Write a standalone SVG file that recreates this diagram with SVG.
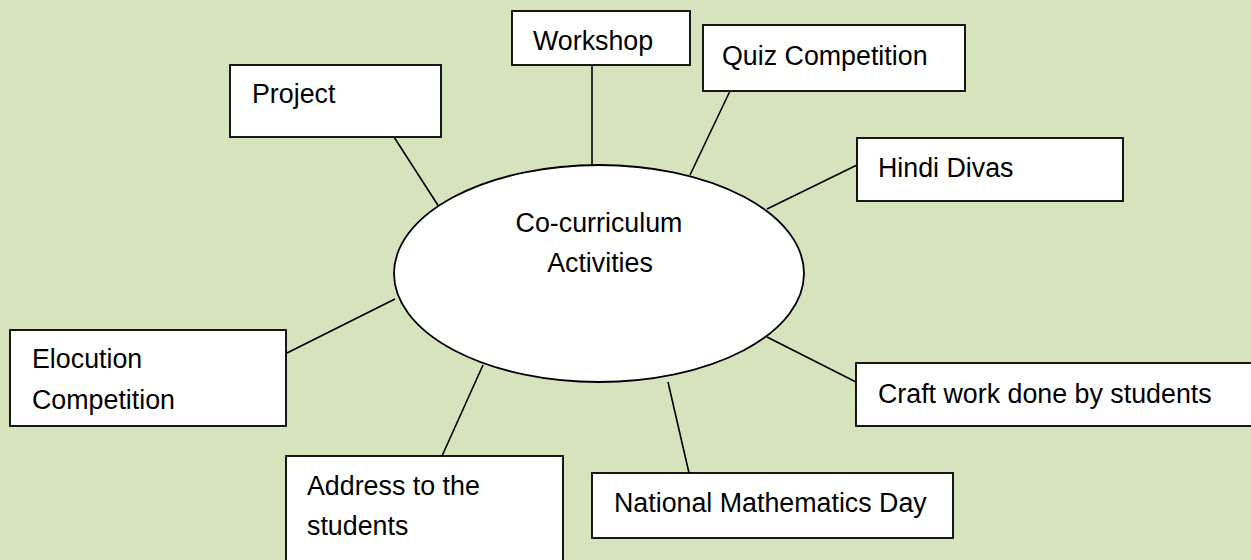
<svg xmlns="http://www.w3.org/2000/svg" width="1251" height="560" viewBox="0 0 1251 560">
<style>
.box{fill:#ffffff;stroke:#000000;stroke-width:1.8}
.ell{fill:#ffffff;stroke:#000000;stroke-width:1.8}
.ln{stroke:#000000;stroke-width:1.6;fill:none}
.t{font-family:"Liberation Sans",Arial,sans-serif;font-size:26.8px;fill:#000000}
.c{text-anchor:middle}
</style>
<rect x="0" y="0" width="1251" height="560" fill="#D7E3BC"/>
<g id="connectors">
<line class="ln" x1="394" y1="137" x2="441" y2="210"/>
<line class="ln" x1="592" y1="65" x2="592" y2="165"/>
<line class="ln" x1="730" y1="91" x2="690" y2="175"/>
<line class="ln" x1="857" y1="165" x2="767" y2="209"/>
<line class="ln" x1="856" y1="382" x2="767" y2="337"/>
<line class="ln" x1="689" y1="473" x2="668" y2="382"/>
<line class="ln" x1="442" y1="456" x2="483" y2="365"/>
<line class="ln" x1="287" y1="353" x2="395" y2="299"/>
</g>
<g id="center">
<ellipse class="ell" cx="599" cy="273.5" rx="205" ry="108.5"/>
<text class="t c" x="599" y="232">Co-curriculum</text>
<text class="t c" x="600" y="272">Activities</text>
</g>
<g id="project">
<rect class="box" x="230" y="65" width="211" height="72"/>
<text class="t" x="252" y="103">Project</text>
</g>
<g id="workshop">
<rect class="box" x="512" y="11" width="178" height="54"/>
<text class="t" x="533" y="50">Workshop</text>
</g>
<g id="quiz">
<rect class="box" x="703" y="25" width="262" height="66"/>
<text class="t" x="722" y="65">Quiz Competition</text>
</g>
<g id="hindi">
<rect class="box" x="857" y="138" width="266" height="63"/>
<text class="t" x="878" y="177">Hindi Divas</text>
</g>
<g id="craft">
<rect class="box" x="856" y="363" width="410" height="63"/>
<text class="t" x="878" y="403">Craft work done by students</text>
</g>
<g id="natmath">
<rect class="box" x="592" y="473" width="361" height="65"/>
<text class="t" x="614" y="512">National Mathematics Day</text>
</g>
<g id="address">
<rect class="box" x="286" y="456" width="277" height="120"/>
<text class="t" x="307" y="495">Address to the</text>
<text class="t" x="307" y="535">students</text>
</g>
<g id="elocution">
<rect class="box" x="10" y="330" width="276" height="96"/>
<text class="t" x="32" y="368">Elocution</text>
<text class="t" x="32" y="409">Competition</text>
</g>
</svg>
